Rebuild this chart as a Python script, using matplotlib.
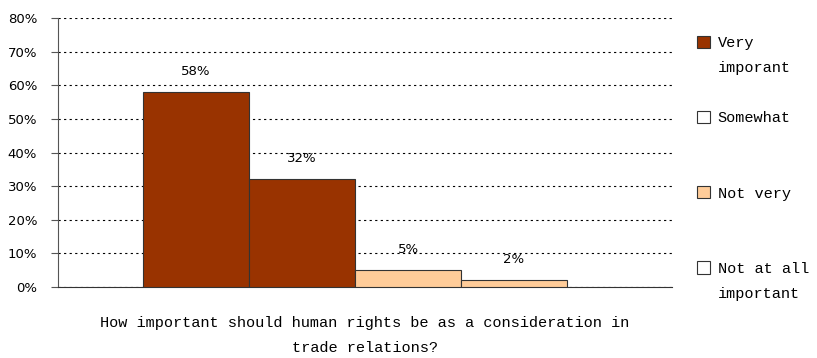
import matplotlib.pyplot as plt
from matplotlib.patches import Patch

categories = ['Very\nimporant', 'Somewhat', 'Not very', 'Not at all\nimportant']
values = [58, 32, 5, 2]
bar_colors = ['#993300', '#993300', '#FFCC99', '#FFCC99']
legend_colors = ['#993300', '#FFFFFF', '#FFCC99', '#FFFFFF']
yticks = [0, 10, 20, 30, 40, 50, 60, 70, 80]

fig = plt.figure(figsize=(8.17, 3.58), dpi=100)
ax = fig.add_axes([0.071, 0.198, 0.7515, 0.752])

x = list(range(len(values)))
ax.bar(x, values, width=1.0, color=bar_colors, edgecolor='#333333', linewidth=0.8, zorder=3)

for xi, v in zip(x, values):
    ax.annotate('%d%%' % v, (xi, v), xytext=(0, 15), textcoords='offset points',
                ha='center', va='center', fontsize=9.5, fontfamily='DejaVu Sans')

ax.set_xlim(-1.302, 4.49)
ax.set_ylim(0, 80)
ax.set_yticks(yticks)
ax.set_yticklabels(['%d%%' % t for t in yticks], fontsize=9.5)
ax.set_xticks([])
ax.yaxis.grid(True, linestyle=(0, (2, 3)), color='black', linewidth=0.8, zorder=0)
ax.tick_params(axis='y', direction='out', length=5, color='#555555', pad=10)
for s in ['top', 'right']:
    ax.spines[s].set_visible(False)
ax.spines['left'].set_color('#555555')
ax.spines['bottom'].set_color('#333333')

ax.set_xlabel('How important should human rights be as a consideration in\ntrade relations?',
              fontsize=11, fontfamily='Liberation Mono', linespacing=1.95, labelpad=21)

# legend: one row per text line, blank rows keep the even spacing
row_starts = [0, 3, 6, 9]
n_rows = 11
handles = [Patch(facecolor='none', edgecolor='none') for _ in range(n_rows)]
labels = [' '] * n_rows
for i, start in enumerate(row_starts):
    handles[start] = Patch(facecolor=legend_colors[i], edgecolor='#333333', linewidth=0.8)
    for j, part in enumerate(categories[i].split('\n')):
        labels[start + j] = part

fig.legend(handles, labels, loc='upper left', bbox_to_anchor=(0.853, 0.9),
           frameon=False, prop={'family': 'Liberation Mono', 'size': 11},
           handlelength=0.85, handleheight=0.85, handletextpad=0.5,
           labelspacing=0.7, borderaxespad=0, borderpad=0)

plt.savefig('out.png', dpi=100)
